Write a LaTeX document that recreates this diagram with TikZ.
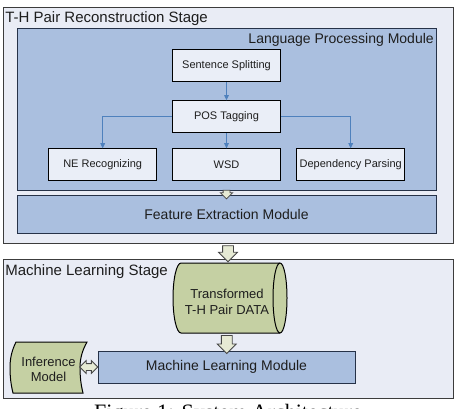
\documentclass[tikz,border=0pt]{standalone}
\usepackage{fontspec}
\setmainfont{Liberation Sans}
\newfontfamily\capfont{Liberation Serif}
\usetikzlibrary{shapes.arrows,calc,arrows.meta}
\definecolor{stagefill}{RGB}{233,236,245}
\definecolor{stageline}{RGB}{60,60,60}
\definecolor{modfill}{RGB}{170,191,223}
\definecolor{modline}{RGB}{38,50,72}
\definecolor{taskfill}{RGB}{234,238,247}
\definecolor{flowblue}{RGB}{79,129,189}
\definecolor{olivefill}{RGB}{197,208,163}
\definecolor{arrowfill}{RGB}{230,234,212}
\definecolor{arrowline}{RGB}{70,70,70}
\definecolor{ink}{RGB}{30,30,30}
\begin{document}
\begin{tikzpicture}[x=0.75pt,y=-0.75pt,
  stagebox/.style={draw=stageline, fill=stagefill, line width=0.75pt, inner sep=0pt},
  modbox/.style={draw=modline, fill=modfill, line width=0.75pt, inner sep=0pt, text=ink, font=\fontsize{10.5pt}{12pt}\selectfont},
  taskbox/.style={draw=black, fill=taskfill, line width=0.75pt, inner xsep=1pt, minimum width=81.4pt, minimum height=23.8pt, text=ink, font=\fontsize{8.25pt}{10pt}\selectfont},
  label/.style={inner sep=0pt, text=ink},
  flow/.style={draw=flowblue, line width=0.75pt, -{Triangle[length=4pt,width=3.5pt]}},
  datashape/.style={draw=black, fill=olivefill, line width=0.75pt},
  datatext/.style={align=center, inner sep=0pt, text=ink, font=\fontsize{9.75pt}{11.5pt}\selectfont},
  blockarrow/.style={single arrow, draw=arrowline, fill=arrowfill, line width=0.6pt, inner sep=0pt, rotate=-90},
  blockdouble/.style={double arrow, draw=arrowline, fill=arrowfill, line width=0.6pt, inner sep=0pt}
]
\useasboundingbox (0,0) rectangle (456,408);
\clip (0,0) rectangle (456,408);
\fill[white] (0,0) rectangle (456,408);

% Stage 1
\node[stagebox, minimum width=337.5pt, minimum height=177pt] (thstage) at (228,125) {};
\node[label, anchor=base west, font=\fontsize{11.25pt}{13pt}\selectfont] (thtitle) at (5,22) {T-H Pair Reconstruction Stage};

\node[modbox, minimum width=314.25pt, minimum height=121.5pt] (lpm) at (226.5,109) {};
\node[label, anchor=base east, font=\fontsize{10.5pt}{12pt}\selectfont] (lpmtitle) at (434,43.3) {Language Processing Module};

\node[taskbox] (ss) at (226.5,65.8) {Sentence Splitting};
\node[taskbox] (pos) at (226.5,116.7) {POS Tagging};
\node[taskbox] (ne) at (102.7,164.8) {NE Recognizing};
\node[taskbox] (wsd) at (226.5,164.8) {WSD};
\node[taskbox] (dp) at (350.7,164.8) {Dependency Parsing};

\draw[flow] (ss) -- (pos);
\draw[flow] (pos) -- (wsd);
\draw[flow] (pos.west) -| (ne.north);
\draw[flow] (pos.east) -| (dp.north);

\node[modbox, minimum width=314.25pt, minimum height=28.2pt] (fem) at (226.5,214.5) {Feature Extraction Module};

\node[blockarrow, inner ysep=2.25pt, single arrow head extend=2pt, minimum height=6.5pt, minimum width=8.5pt] (a1) at ($(lpm.south)!0.5!(fem.north)$) {};

% Stage 2
\node[stagebox, minimum width=337.5pt, minimum height=104.25pt] (mlstage) at (228,328.5) {};
\node[label, anchor=base west, font=\fontsize{11.25pt}{13pt}\selectfont] (mltitle) at (5,275) {Machine Learning Stage};

\node[blockarrow, inner ysep=3.75pt, single arrow head extend=3pt, minimum height=12pt, minimum width=13.5pt] (a2) at ($(thstage.south)!0.5!(mlstage.north)$) {};

% Cylinder
\filldraw[datashape] (181,263) -- (280,263)
  .. controls (283.9,263) and (287,278.7) .. (287,298)
  .. controls (287,317.3) and (283.9,333) .. (280,333)
  -- (181,333)
  .. controls (176.6,333) and (173,317.3) .. (173,298)
  .. controls (173,278.7) and (176.6,263) .. (181,263) -- cycle;
\draw[line width=0.75pt] (280,263) .. controls (276.1,263) and (273,278.7) .. (273,298)
  .. controls (273,317.3) and (276.1,333) .. (280,333);
\node[datatext] (data) at (227,302) {Transformed\\T-H Pair DATA};
\coordinate (cylbot) at (227,333);

\node[modbox, minimum width=192.75pt, minimum height=24pt] (mlm) at (226.5,367) {Machine Learning Module};

\node[blockarrow, inner ysep=3.75pt, single arrow head extend=3pt, minimum height=13.5pt, minimum width=13.5pt] (a3) at ($(cylbot)!0.5!(mlm.north)$) {};

% Inference model
\filldraw[datashape] (16,342) -- (87,342)
  .. controls (82.5,350) and (80,358) .. (80,367.5)
  .. controls (80,377) and (81,385) .. (83,393)
  -- (13,393)
  .. controls (11,385) and (10,377) .. (10,367.5)
  .. controls (10,358) and (12,350) .. (16,342) -- cycle;
\node[datatext, font=\fontsize{9.75pt}{11.25pt}\selectfont] (inf) at (48.5,369) {Inference\\Model};
\coordinate (infR) at (80,367);

\node[blockdouble, inner ysep=2.25pt, double arrow head extend=2.25pt, minimum height=13.5pt, minimum width=9pt] (a4) at ($(infR)!0.5!(mlm.west)$) {};

% Caption (cut off at bottom, as in the reference)
\node[inner sep=0pt, anchor=base, font=\capfont\fontsize{16.5pt}{18pt}\selectfont] (caption) at (228,419) {Figure 1: System Architecture};
\end{tikzpicture}
\end{document}
